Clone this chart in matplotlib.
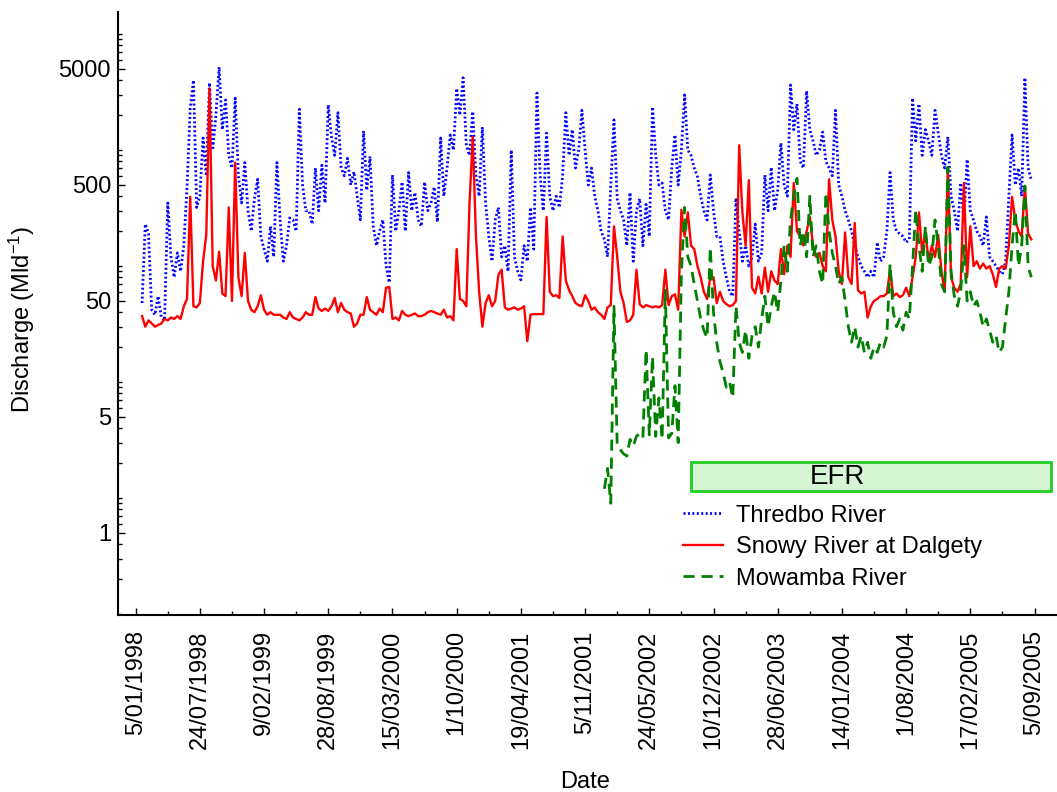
import pandas as pd
import matplotlib
matplotlib.use("Agg")
import matplotlib.pyplot as plt
from matplotlib.ticker import FixedLocator, LogLocator, NullFormatter
from matplotlib.patches import Rectangle

plt.rcParams["font.family"] = ["Liberation Sans", "DejaVu Sans"]
plt.rcParams["mathtext.default"] = "regular"

# Discharge (Ml/d) sampled every 10 days from 25/01/1998
series_start = "1998-01-25"
step = "10D"

thredbo = [
    48, 230, 190, 42, 38, 55, 36, 34, 350, 120,
    80, 130, 90, 150, 480, 2300, 4000, 320, 400, 1270,
    600, 3800, 1000, 2000, 5200, 1500, 2700, 900, 700, 2800,
    600, 350, 780, 300, 200, 380, 560, 180, 140, 110,
    220, 120, 780, 250, 110, 150, 260, 250, 200, 2250,
    500, 300, 300, 230, 700, 300, 740, 350, 2450, 1300,
    900, 2100, 700, 600, 850, 500, 650, 400, 250, 1460,
    450, 880, 220, 150, 200, 250, 100, 72, 610, 200,
    300, 530, 200, 640, 300, 430, 250, 220, 530, 300,
    350, 480, 240, 1270, 400, 700, 1350, 1000, 3400, 2000,
    4200, 1100, 900, 2150, 600, 400, 1580, 350, 180, 110,
    250, 320, 120, 150, 90, 1000, 120, 90, 76, 150,
    110, 320, 140, 3100, 600, 300, 1400, 400, 300, 400,
    320, 600, 2100, 900, 1500, 700, 1000, 2200, 1000, 500,
    700, 400, 300, 200, 170, 120, 500, 1820, 380, 300,
    250, 150, 430, 110, 300, 380, 150, 340, 180, 2350,
    900, 500, 520, 300, 250, 700, 1350, 500, 1000, 2990,
    1000, 900, 700, 590, 400, 300, 250, 610, 300, 180,
    180, 110, 80, 60, 55, 385, 200, 110, 150, 100,
    120, 230, 110, 130, 610, 300, 710, 300, 450, 1150,
    500, 400, 3640, 1500, 2500, 800, 700, 3230, 1500, 1200,
    900, 1000, 1430, 800, 700, 600, 2200, 500, 400, 300,
    250, 200, 150, 120, 100, 90, 80, 90, 80, 160,
    110, 120, 200, 640, 250, 200, 190, 180, 160, 170,
    2800, 1200, 2500, 900, 1500, 1200, 900, 2200, 1400, 900,
    700, 1300, 400, 300, 200, 520, 250, 830, 300, 250,
    200, 180, 150, 265, 120, 110, 100, 90, 85, 110,
    400, 1350, 500, 700, 400, 4200, 700, 550,
]

snowy = [
    37, 30, 34, 32, 30, 31, 32, 35, 34, 36,
    35, 37, 35, 45, 52, 395, 45, 44, 48, 110,
    187, 3400, 100, 75, 133, 58, 55, 320, 50, 780,
    80, 55, 130, 50, 42, 40, 45, 56, 42, 38,
    40, 38, 38, 38, 36, 35, 40, 36, 35, 34,
    36, 40, 38, 38, 54, 43, 41, 43, 41, 45,
    53, 40, 48, 42, 40, 39, 30, 32, 38, 38,
    54, 42, 40, 38, 43, 40, 65, 66, 35, 36,
    34, 41, 38, 37, 38, 39, 37, 37, 38, 40,
    41, 40, 39, 38, 42, 36, 37, 34, 140, 52,
    50, 45, 350, 1300, 180, 60, 30, 48, 56, 45,
    50, 84, 93, 44, 42, 43, 44, 42, 43, 45,
    22.5, 38, 38.5, 38.5, 38.5, 38.5, 265, 60, 55, 56,
    53, 180, 75, 62, 55, 48, 46, 45, 56, 50,
    42, 44, 40, 38, 35, 44, 46, 220, 120, 60,
    48, 33, 34, 38, 93, 47, 44, 46, 45, 44,
    45, 44, 46, 93, 46, 55, 57, 42, 305, 180,
    290, 150, 140, 100, 80, 60, 52, 80, 80, 48,
    60, 50, 47, 45, 46, 50, 1100, 290, 150, 550,
    65, 58, 81, 58, 97, 60, 90, 75, 70, 140,
    85, 150, 120, 520, 200, 180, 150, 200, 265, 150,
    120, 130, 100, 90, 560, 250, 180, 90, 70, 195,
    80, 70, 235, 62, 58, 60, 36, 45, 50, 52,
    55, 55, 58, 93, 55, 58, 54, 56, 65, 55,
    80, 120, 290, 130, 200, 110, 150, 120, 185, 90,
    60, 710, 80, 65, 60, 70, 520, 80, 220, 100,
    110, 95, 105, 95, 100, 85, 66, 95, 100, 95,
    150, 395, 250, 200, 180, 490, 190, 170,
]

# Mowamba gauge record begins 144 steps into the common record
mowamba_offset = 144
mowamba = [
    1.2, 1.8, 0.9, 45, 2.8, 2.6,
    2.4, 2.3, 3.2, 2.8, 3.4, 3.6, 3.3, 19, 3.5, 16.5,
    3.4, 7.3, 3.2, 62, 3.3, 3.6, 9.3, 3.0, 88, 320,
    120, 100, 70, 50, 35, 28, 24, 145, 40, 22,
    15, 12, 9, 10, 7.3, 45, 22, 18, 28, 16,
    25, 30, 20, 35, 55, 30, 45, 60, 40, 75,
    150, 90, 250, 400, 570, 150, 200, 120, 400, 120,
    150, 90, 70, 430, 200, 130, 100, 70, 80, 50,
    30, 22, 30, 20, 25, 18, 22, 16, 20, 18,
    22, 20, 25, 104, 40, 30, 35, 28, 40, 35,
    100, 305, 150, 90, 220, 100, 120, 250, 150, 70,
    60, 710, 90, 55, 45, 60, 150, 50, 60, 45,
    50, 40, 30, 35, 28, 22, 25, 18, 20, 35,
    60, 150, 300, 100, 150, 490, 100, 80,
]

tick_start = "1998-01-05"
tick_every_days = 200
n_ticks = 15

y_ticks = [0.5, 5, 50, 500, 5000]
y_tick_labels = ["1", "5", "50", "500", "5000"]

dates = pd.date_range(series_start, periods=len(thredbo), freq=step)
mowamba_dates = dates[mowamba_offset:mowamba_offset + len(mowamba)]

fig = plt.figure(figsize=(10.57, 7.92), dpi=100)
ax = fig.add_axes([118 / 1057, 1 - 615 / 792, 1 - 118 / 1057, (615 - 12) / 792])

ax.plot(dates, thredbo, color="#0000ff", lw=2.0, ls=(0, (0.7, 0.9)),
        label="Thredbo River")
ax.plot(dates, snowy, color="#ff0000", lw=1.7, label="Snowy River at Dalgety")
ax.plot(mowamba_dates, mowamba, color="#008000", lw=2.0, ls=(0, (4, 2.5)),
        label="Mowamba River")

ax.set_yscale("log")
ax.set_ylim(0.098, 15500)
ax.yaxis.set_major_locator(FixedLocator(y_ticks))
ax.set_yticklabels(y_tick_labels)
ax.yaxis.set_minor_locator(LogLocator(base=10, subs=range(1, 10)))
ax.yaxis.set_minor_formatter(NullFormatter())

t0 = pd.Timestamp(tick_start)
tick_dates = pd.date_range(t0, periods=n_ticks, freq=f"{tick_every_days}D")
minor_dates = tick_dates[:-1] + pd.Timedelta(days=tick_every_days // 2)
ax.set_xticks(tick_dates)
ax.set_xticklabels([f"{d.day}/{d.month:02d}/{d.year}" for d in tick_dates],
                   rotation=90)
ax.set_xticks(minor_dates, minor=True)
ax.set_xlim(t0 - pd.Timedelta(days=55), t0 + pd.Timedelta(days=2870))

for side in ("top", "right"):
    ax.spines[side].set_visible(False)
for side in ("left", "bottom"):
    ax.spines[side].set_linewidth(1.5)

ax.tick_params(which="both", direction="in", labelsize=17, width=1)
ax.tick_params(which="major", length=5)
ax.tick_params(which="minor", length=3)
ax.tick_params(axis="y", which="major", pad=5)
ax.tick_params(axis="x", which="major", pad=11)

ax.set_xlabel("Date", fontsize=17)
ax.xaxis.set_label_coords(0.497, -0.258)
ax.set_ylabel("Discharge (Mld$^{-1}$)", fontsize=17)
ax.yaxis.set_label_coords(-0.086, 0.49)

# environmental flow release band
ax.add_patch(Rectangle((0.610, 0.2056), 0.384, 0.0476, transform=ax.transAxes,
                       facecolor="#d5f5d5", edgecolor="#22cc22", lw=2,
                       zorder=3))
ax.text(0.766, 0.229, "EFR", transform=ax.transAxes, fontsize=20,
        ha="center", va="center", zorder=4)

ax.legend(loc="upper left", bbox_to_anchor=(0.602, 0.183), frameon=False,
          fontsize=17, handlelength=1.7, handletextpad=0.55,
          labelspacing=0.4, borderpad=0, borderaxespad=0)

fig.savefig("out.png", dpi=100)
